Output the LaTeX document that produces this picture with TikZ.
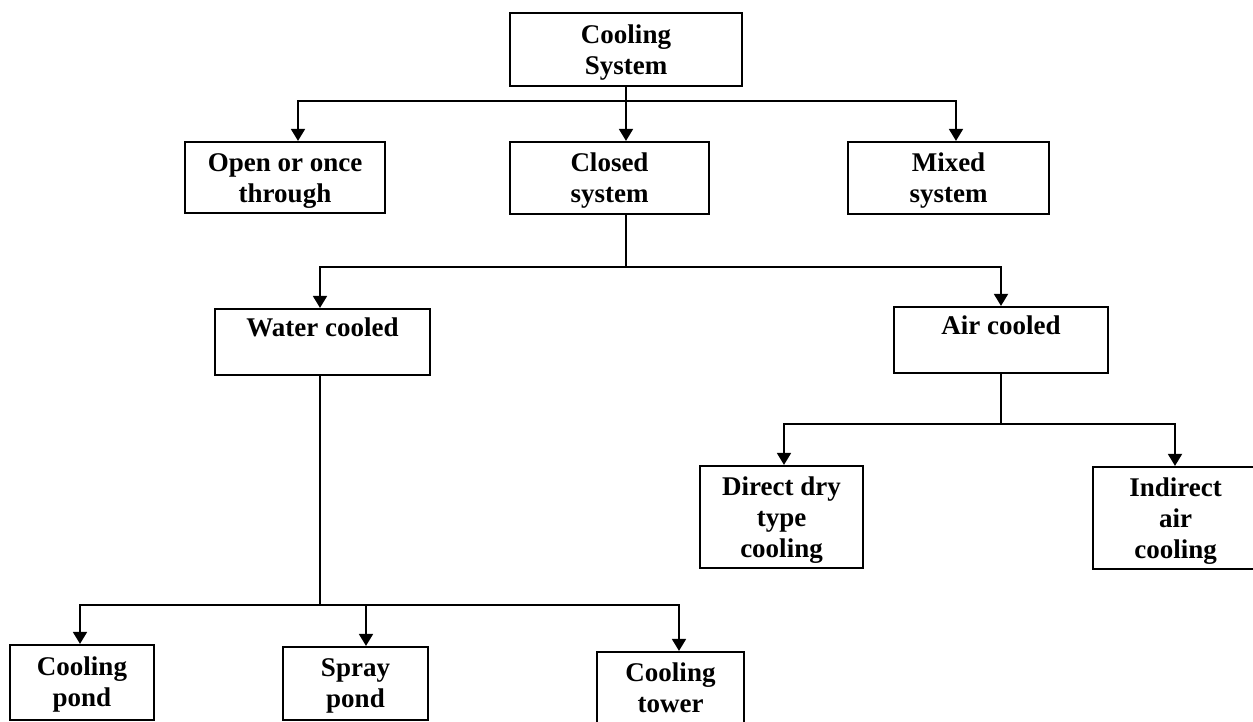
\documentclass[tikz,border=0pt]{standalone}
\usepackage{fontspec}
\setmainfont{Liberation Serif}
\usetikzlibrary{arrows.meta}
\begin{document}
\begin{tikzpicture}[x=1pt,y=-1pt,
  box/.style={draw=black, line width=2.2pt, inner sep=0pt},
  txt/.style={align=center, inner sep=0pt, font=\fontsize{27}{31}\selectfont\bfseries},
  conn/.style={line width=1.8pt, draw=black},
  arr/.style={conn, -{Triangle[width=14pt,length=12pt]}}]
\clip (0,0) rectangle (1253,721);
\fill[white] (0,0) rectangle (1253,721);
% boxes
\node[box, minimum width=232pt, minimum height=73pt] (cs) at (626,49.5) {};
\node[box, minimum width=200pt, minimum height=71pt] (open) at (285,177.5) {};
\node[box, minimum width=199pt, minimum height=72pt] (closed) at (609.5,178) {};
\node[box, minimum width=201pt, minimum height=72pt] (mixed) at (948.5,178) {};
\node[box, minimum width=215pt, minimum height=66pt] (wc) at (322.5,342) {};
\node[box, minimum width=214pt, minimum height=66pt] (ac) at (1001,340) {};
\node[box, minimum width=163pt, minimum height=102pt] (direct) at (781.5,517) {};
\node[box, minimum width=165pt, minimum height=102pt] (indirect) at (1175.5,518) {};
\node[box, minimum width=144pt, minimum height=75pt] (pond) at (82,682.5) {};
\node[box, minimum width=145pt, minimum height=73pt] (spray) at (355.5,683.5) {};
\node[box, minimum width=147pt, minimum height=73pt] (tower) at (670.5,688.5) {};
% texts
\node[txt] (cst) at ([yshift=-3pt]cs.center) {\strut Cooling\\\strut System};
\node[txt] (opent) at ([yshift=-3pt]open.center) {\strut Open or once\\\strut through};
\node[txt] (closedt) at ([yshift=-3pt]closed.center) {\strut Closed\\\strut system};
\node[txt] (mixedt) at ([yshift=-3pt]mixed.center) {\strut Mixed\\\strut system};
\node[txt] (wct) at ([yshift=-22.3pt]wc.north) {\strut Water cooled};
\node[txt] (act) at ([yshift=-22.8pt]ac.north) {\strut Air cooled};
\node[txt] (directt) at ([yshift=-3pt]direct.center) {\strut Direct dry\\\strut type\\\strut cooling};
\node[txt] (indirectt) at ([yshift=-3pt]indirect.center) {\strut Indirect\\\strut air\\\strut cooling};
\node[txt] (pondt) at ([yshift=-2pt]pond.center) {\strut Cooling\\\strut pond};
\node[txt] (sprayt) at ([yshift=-2pt]spray.center) {\strut Spray\\\strut pond};
\node[txt] (towert) at ([yshift=-2.5pt]tower.center) {\strut Cooling\\\strut tower};
% connectors: level 1
\draw[arr] (cs.south) -- (cs.south |- closed.north);
\draw[arr] (cs.south) -- ++(0,14) -| ([xshift=13pt]open.north);
\draw[arr] (cs.south) -- ++(0,14) -| ([xshift=7.5pt]mixed.north);
% closed -> water / air
\draw[arr] ([xshift=16.5pt]closed.south) -- ++(0,52) -| ([xshift=-2.5pt]wc.north);
\draw[arr] ([xshift=16.5pt]closed.south) -- ++(0,52) -| (ac.north);
% air -> direct / indirect
\draw[arr] (ac.south) -- ++(0,50) -| ([xshift=2.5pt]direct.north);
\draw[arr] (ac.south) -- ++(0,50) -| ([xshift=-0.5pt]indirect.north);
% water -> pond / spray / tower
\draw[arr] ([xshift=-2.5pt]wc.south) -- ++(0,229) -| ([xshift=-2pt]pond.north);
\draw[arr] ([xshift=-2.5pt]wc.south) -- ++(0,229) -| ([xshift=10.5pt]spray.north);
\draw[arr] ([xshift=-2.5pt]wc.south) -- ++(0,229) -| ([xshift=8.5pt]tower.north);
\end{tikzpicture}
\end{document}
